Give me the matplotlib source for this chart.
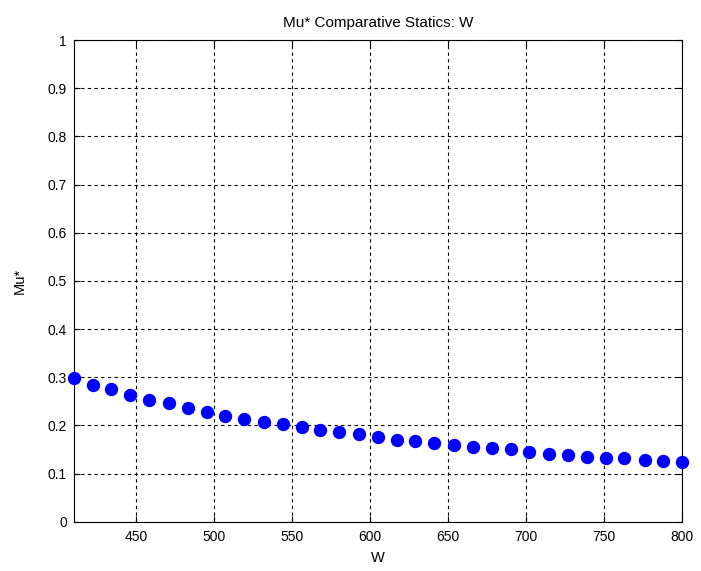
import matplotlib
matplotlib.use("Agg")
import matplotlib.pyplot as plt

# Wage levels and the corresponding optimal Mu*
w_values = [410, 422, 434, 446, 458, 471, 483, 495, 507, 519, 532, 544, 556,
            568, 580, 593, 605, 617, 629, 641, 654, 666, 678, 690, 702, 715,
            727, 739, 751, 763, 776, 788, 800]
mu_values = [0.299, 0.284, 0.275, 0.264, 0.252, 0.246, 0.237, 0.228, 0.220,
             0.214, 0.208, 0.202, 0.197, 0.191, 0.186, 0.182, 0.176, 0.170,
             0.167, 0.164, 0.159, 0.155, 0.152, 0.150, 0.144, 0.141, 0.138,
             0.135, 0.133, 0.132, 0.129, 0.127, 0.124]
x_ticks = [450, 500, 550, 600, 650, 700, 750, 800]
y_ticks = [0, 0.1, 0.2, 0.3, 0.4, 0.5, 0.6, 0.7, 0.8, 0.9, 1]
y_tick_labels = ["0", "0.1", "0.2", "0.3", "0.4", "0.5", "0.6", "0.7", "0.8", "0.9", "1"]

plt.rcParams["font.family"] = ["Liberation Sans", "DejaVu Sans"]
plt.rcParams["font.size"] = 10

W, H = 701, 571
fig = plt.figure(figsize=(W / 100, H / 100), dpi=100)
ax = fig.add_axes([74 / W, 1 - 521.7 / H, (682 - 74) / W, (521.7 - 40) / H])

ax.plot(w_values, mu_values, linestyle="none", marker="o", markersize=8.6,
        color="#0000ff", markeredgecolor="#0000ff", zorder=3, clip_on=False)

ax.set_xlim(min(w_values), max(w_values))
ax.set_ylim(0, 1)
ax.set_xticks(x_ticks)
ax.set_yticks(y_ticks)
ax.set_yticklabels(y_tick_labels)

ax.grid(True, color="black", linestyle=(0, (3, 3)), linewidth=0.8)
ax.tick_params(direction="in", top=True, right=True, length=4, width=0.8,
               colors="black", labelsize=10)
ax.tick_params(axis="x", pad=6)
ax.tick_params(axis="y", pad=5)
for spine in ax.spines.values():
    spine.set_linewidth(0.8)
    spine.set_color("black")

ax.set_title("Mu* Comparative Statics: W", fontsize=11, pad=9)
ax.set_xlabel("W", fontsize=10.5, labelpad=5)
ax.set_ylabel("Mu*", fontsize=10.5, labelpad=15)

fig.savefig("out.png", dpi=100)
